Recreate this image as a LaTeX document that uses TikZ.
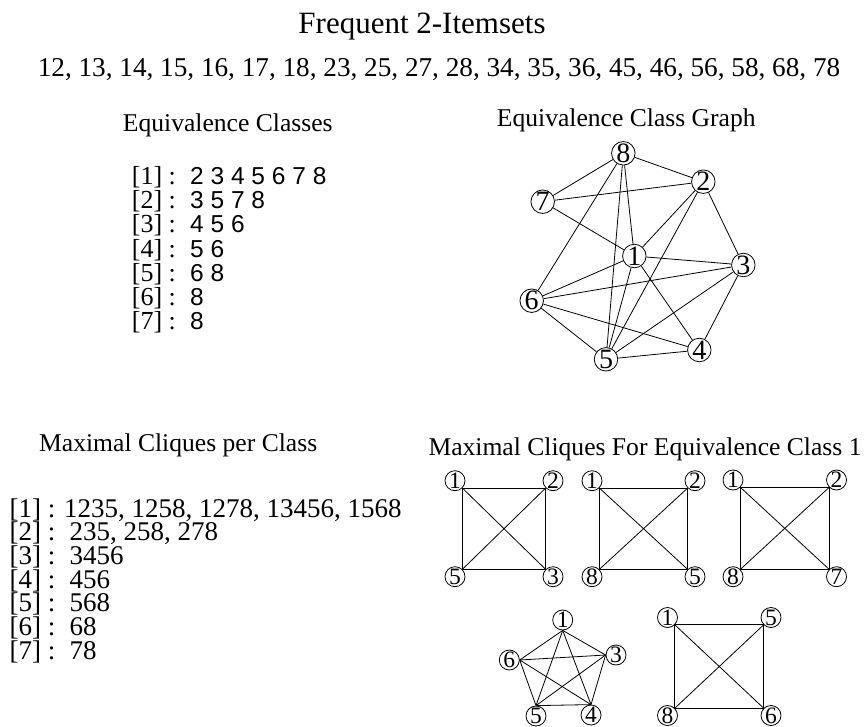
\documentclass[tikz,border=0pt]{standalone}
\usepackage{fontspec}
\setmainfont{Liberation Serif}
\newfontfamily\digitsans{Liberation Sans}

\tikzset{
    titletxt/.style={font=\fontsize{31}{31}\selectfont, inner sep=0pt},
    headtxt/.style={font=\fontsize{25.6}{26}\selectfont, inner sep=0pt, anchor=base west},
    listtxt/.style={font=\fontsize{27}{26}\selectfont, inner sep=0pt, anchor=base west},
    sanstxt/.style={font=\digitsans\fontsize{24.5}{25}\selectfont, inner sep=0pt, anchor=base west},
    vtx/.style={circle, draw, line width=0.8pt, inner sep=0pt, minimum size=23.5pt,
        font=\fontsize{28}{28}\selectfont},
    cvtx/.style={circle, draw, line width=0.8pt, inner sep=0pt, minimum size=20pt,
        font=\fontsize{23.5}{23.5}\selectfont},
    edge/.style={line width=0.8pt}
}

\begin{document}
\begin{tikzpicture}[x=1pt, y=-1pt]
    \useasboundingbox (0,0) rectangle (866,727);

    % 标题和频繁2项集
    \node[titletxt, anchor=base] (title) at (422,33.3) {Frequent 2-Itemsets};
    \node[listtxt, anchor=base, font=\fontsize{27.2}{27}\selectfont] (pairs) at (439,76.7)
        {12, 13, 14, 15, 16, 17, 18, 23, 25, 27, 28, 34, 35, 36, 45, 46, 56, 58, 68, 78};

    % 小标题
    \node[headtxt] (eqhead) at (122.7,131.7) {Equivalence Classes};
    \node[headtxt] (grhead) at (496.7,126.7) {Equivalence Class Graph};
    \node[headtxt] (mchead) at (39,451.5) {Maximal Cliques per Class};
    \node[headtxt] (cqhead) at (428.3,455) {Maximal Cliques For Equivalence Class 1};

    % 等价类列表
    \foreach \i/\s in {1/{2 3 4 5 6 7 8}, 2/{3 5 7 8}, 3/{4 5 6}, 4/{5 6}, 5/{6 8}, 6/8, 7/8} {
        \node[listtxt, font=\fontsize{26}{25}\selectfont] (eqL\i) at (131.7,{185+24*(\i-1)}) {[\i] :};
        \node[sanstxt] (eqR\i) at (190,{185+24*(\i-1)}) {\s};
    }

    % 每类的极大团
    \foreach \i/\x/\s in {1/64/{1235, 1258, 1278, 13456, 1568}, 2/69.5/{235, 258, 278},
        3/69.5/3456, 4/69.5/456, 5/69.5/568, 6/69.5/68, 7/69.5/78} {
        \node[listtxt] (mcL\i) at (9.5,{517+23.7*(\i-1)}) {[\i] :};
        \node[listtxt] (mcR\i) at (\x,{517+23.7*(\i-1)}) {\s};
    }

    % 等价类图
    \node[vtx] (g8) at (623.3,153.3) {8};
    \node[vtx] (g2) at (703.3,181.7) {2};
    \node[vtx] (g7) at (542.7,201.7) {7};
    \node[vtx] (g1) at (634.3,256) {1};
    \node[vtx] (g3) at (743.3,265) {3};
    \node[vtx] (g6) at (531.7,300.7) {6};
    \node[vtx] (g4) at (699.3,350) {4};
    \node[vtx] (g5) at (606,359.3) {5};
    \foreach \a/\b in {1/2, 1/3, 1/4, 1/5, 1/6, 1/7, 1/8, 2/3, 2/5, 2/7, 2/8,
        3/4, 3/5, 3/6, 4/5, 4/6, 5/6, 5/8, 6/8, 7/8}
        \draw[edge] (g\a) -- (g\b);

    % 类1的四元极大团（方形）
    \foreach \n/\x/\y/\w/\h/\p/\q/\r/\s in {A/455/480.7/98/96/1/2/5/3,
        B/592/480.7/103/96/1/2/8/5, C/733/480/103.5/96.7/1/2/8/7,
        E/667.5/617.5/103.5/98/1/5/8/6} {
        \node[cvtx] (\n-tl) at (\x,\y) {\p};
        \node[cvtx] (\n-tr) at ({\x+\w},\y) {\q};
        \node[cvtx] (\n-bl) at (\x,{\y+\h}) {\r};
        \node[cvtx] (\n-br) at ({\x+\w},{\y+\h}) {\s};
        \draw[edge] (\n-tl.south east) -- (\n-tr.south west) -- (\n-br.north west)
            -- (\n-bl.north east) -- cycle;
        \draw[edge] (\n-tl.south east) -- (\n-br.north west);
        \draw[edge] (\n-tr.south west) -- (\n-bl.north east);
    }

    % 五元极大团 13456
    \node[cvtx] (p1) at (562.7,620) {1};
    \node[cvtx] (p3) at (616,655) {3};
    \node[cvtx] (p6) at (509.3,660) {6};
    \node[cvtx] (p5) at (536,716) {5};
    \node[cvtx] (p4) at (591,715) {4};
    \foreach \a/\b in {1.south/3.west, 1.south/4.north, 1.south/5.north, 1.south/6.east,
        3.west/4.north, 3.west/5.north, 3.west/6.east, 4.north/5.north,
        4.north/6.east, 5.north/6.east}
        \draw[edge] (p\a) -- (p\b);
\end{tikzpicture}
\end{document}
